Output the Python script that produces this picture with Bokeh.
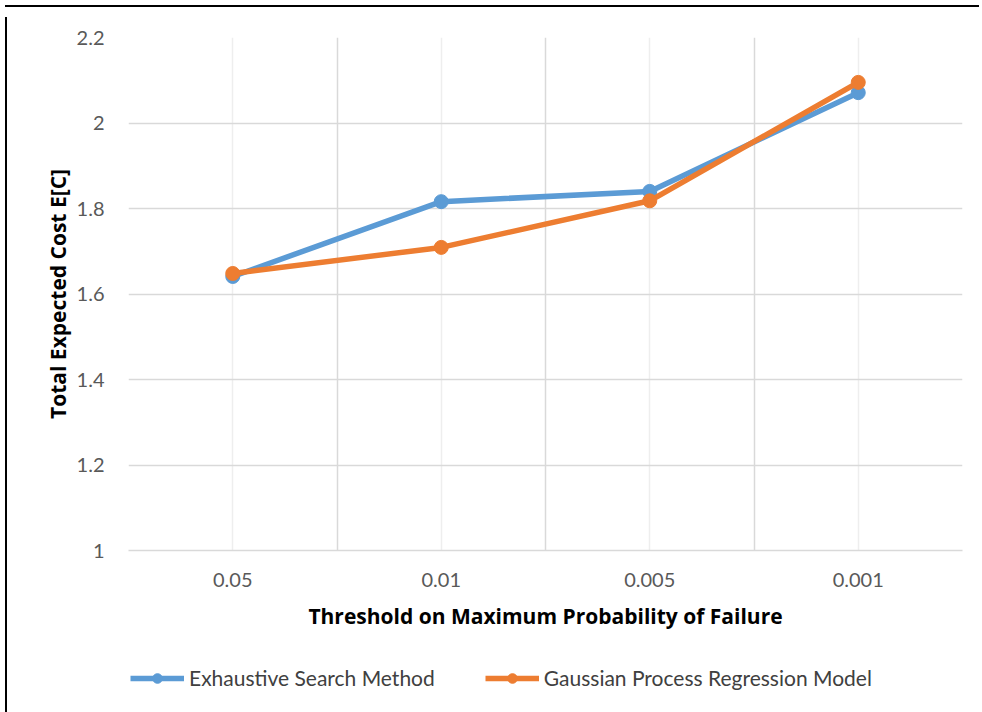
from bokeh.plotting import figure
from bokeh.layouts import column, row
from bokeh.models import (FactorRange, Range1d, FixedTicker, NumeralTickFormatter,
                          Grid, Legend, LegendItem, Div)
from bokeh.embed import file_html
from bokeh.resources import INLINE

categories = ["0.05", "0.01", "0.005", "0.001"]
exhaustive = [1.641, 1.816, 1.840, 2.071]
gpr = [1.648, 1.709, 1.818, 2.095]
y_ticks = [1.0, 1.2, 1.4, 1.6, 1.8, 2.0, 2.2]
boundaries = [0, 1, 2, 3, 4]
series_names = ["Exhaustive Search Method", "Gaussian Process Regression Model"]

BLUE = "#5B9BD5"
ORANGE = "#ED7D31"
TICK_FONT = "Lato"
TITLE_FONT = "Open Sans"

p = figure(width=968, height=638, output_backend="svg", toolbar_location=None,
           x_range=FactorRange(factors=categories, range_padding=0),
           y_range=Range1d(1.0, 2.2),
           min_border_left=116, min_border_right=18, min_border_top=25,
           min_border_bottom=100)
p.outline_line_color = None
p.background_fill_color = "white"
p.border_fill_color = "white"

# grids
p.xgrid.grid_line_color = "#eeeeee"
p.xgrid.grid_line_width = 1.5
p.ygrid.grid_line_color = "#d9d9d9"
p.ygrid.grid_line_width = 1.5
p.ygrid.ticker = FixedTicker(ticks=y_ticks)
bgrid = Grid(dimension=0, ticker=FixedTicker(ticks=boundaries),
             grid_line_color="#d9d9d9", grid_line_width=1.5)
p.add_layout(bgrid)

# axes
xa = p.xaxis[0]
xa.axis_line_color = "#d9d9d9"
xa.axis_line_width = 1.5
xa.major_tick_line_color = None
xa.minor_tick_line_color = None
xa.major_label_standoff = 16
xa.major_label_text_font = TICK_FONT
xa.major_label_text_font_size = "20px"
xa.major_label_text_color = "#595959"
xa.axis_label = "Threshold on Maximum Probability of Failure"
xa.axis_label_text_font = TITLE_FONT
xa.axis_label_text_font_style = "bold"
xa.axis_label_text_font_size = "21px"
xa.axis_label_text_color = "black"
xa.axis_label_standoff = 12

ya = p.yaxis[0]
ya.ticker = FixedTicker(ticks=y_ticks)
ya.formatter = NumeralTickFormatter(format="0.[0]")
ya.axis_line_color = None
ya.major_tick_line_color = None
ya.minor_tick_line_color = None
ya.major_label_standoff = 18
ya.major_label_text_font = TICK_FONT
ya.major_label_text_font_size = "20px"
ya.major_label_text_color = "#595959"
ya.axis_label = "Total Expected Cost E[C]"
ya.axis_label_text_font = TITLE_FONT
ya.axis_label_text_font_style = "bold"
ya.axis_label_text_font_size = "21px"
ya.axis_label_text_color = "black"
ya.axis_label_standoff = 2

p.line(categories, exhaustive, line_color=BLUE, line_width=5.5)
p.scatter(categories, exhaustive, size=14, fill_color=BLUE, line_color=BLUE)
p.line(categories, gpr, line_color=ORANGE, line_width=5.5)
p.scatter(categories, gpr, size=14, fill_color=ORANGE, line_color=ORANGE)

# legend strip below the chart (series drawn off-view so only the legend shows)
q = figure(width=968, height=60, output_backend="svg", toolbar_location=None,
           x_range=FactorRange(factors=categories, range_padding=0),
           y_range=Range1d(10, 11),
           min_border_left=0, min_border_right=0, min_border_top=0, min_border_bottom=0)
q.axis.visible = False
q.grid.visible = False
q.outline_line_color = None
q.background_fill_color = "white"
q.border_fill_color = "white"
ql1 = q.line(categories, exhaustive, line_color=BLUE, line_width=5.5)
qm1 = q.scatter(categories, exhaustive, size=14, fill_color=BLUE, line_color=BLUE)
ql2 = q.line(categories, gpr, line_color=ORANGE, line_width=5.5)
qm2 = q.scatter(categories, gpr, size=14, fill_color=ORANGE, line_color=ORANGE)

legend = Legend(items=[
    LegendItem(label=series_names[0], renderers=[ql1, qm1]),
    LegendItem(label=series_names[1], renderers=[ql2, qm2]),
], orientation="horizontal", location=(2, 20))
legend.label_text_font = TICK_FONT
legend.label_text_font_size = "21px"
legend.label_text_color = "#404040"
legend.glyph_width = 54
legend.glyph_height = 24
legend.label_standoff = 5
legend.spacing = 50
legend.margin = 0
legend.border_line_color = None
legend.background_fill_alpha = 0
legend.padding = 2
q.add_layout(legend, "center")

top_line = Div(width=974, height=2, styles={"background-color": "black"})
left_line = Div(width=2, height=704, styles={"background-color": "black"})
chart = column(p, q, spacing=0)
body = row(left_line, chart, spacing=0)
layout = column(top_line, body, spacing=0)
layout.margin = (0, 0, 0, 0)
open("out.html", "w").write(file_html(layout, INLINE))
